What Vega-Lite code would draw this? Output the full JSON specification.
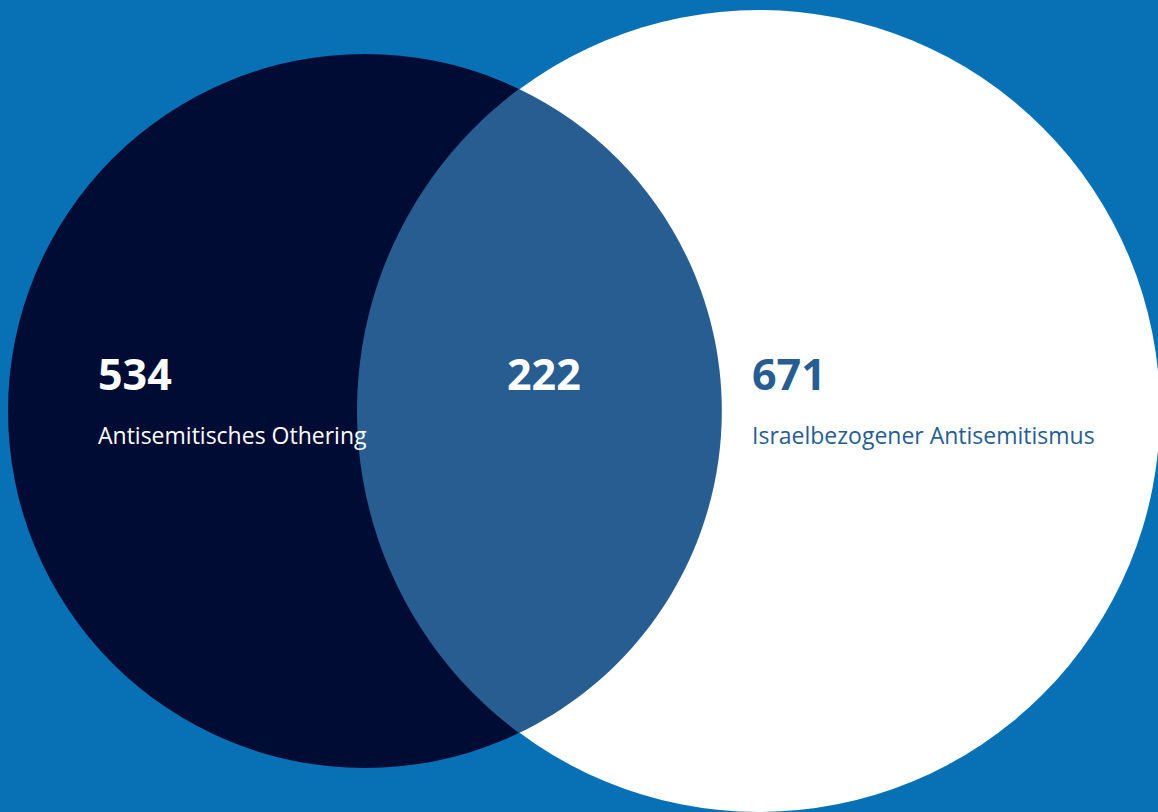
{
  "$schema": "https://vega.github.io/schema/vega-lite/v6.json",
  "width": 1158,
  "height": 812,
  "padding": 0,
  "autosize": {"type": "none"},
  "background": "#0870b5",
  "config": {"view": {"stroke": null}},
  "datasets": {
    "regions": [
      {"region": "Antisemitisches Othering", "kind": "set", "count": 534, "cx": 365, "cy": 411, "lx": 98},
      {"region": "Israelbezogener Antisemitismus", "kind": "set", "count": 671, "cx": 759, "cy": 411, "lx": 752},
      {"region": "Überschneidung", "kind": "overlap", "count": 222, "cx": 759, "cy": 411, "lx": 507}
    ]
  },
  "data": {"name": "regions"},
  "encoding": {
    "y": {"field": "cy", "type": "quantitative", "scale": {"domain": [0, 812], "reverse": true, "nice": false, "zero": false}, "axis": null}
  },
  "layer": [
    {
      "transform": [{"filter": "datum.region === 'Antisemitisches Othering'"}],
      "mark": {"type": "point", "shape": "circle", "filled": true, "opacity": 1, "strokeWidth": 0, "color": "#000c33", "size": 509796},
      "encoding": {
        "x": {"field": "cx", "type": "quantitative", "scale": {"domain": [0, 1158], "nice": false, "zero": false}, "axis": null}
      }
    },
    {
      "transform": [{"filter": "datum.region === 'Israelbezogener Antisemitismus'"}],
      "mark": {"type": "point", "shape": "circle", "filled": true, "opacity": 1, "strokeWidth": 0, "color": "#ffffff", "size": 643204},
      "encoding": {
        "x": {"field": "cx", "type": "quantitative", "axis": null}
      }
    },
    {
      "transform": [{"filter": "datum.kind === 'overlap'"}],
      "mark": {"type": "point", "shape": "M -0.5985 -0.803 A 1 1 0 0 0 -0.5985 0.803 A 0.8903 0.8903 0 0 0 -0.5985 -0.803 Z", "filled": true, "opacity": 1, "strokeWidth": 0, "color": "#275d91", "size": 643204},
      "encoding": {
        "x": {"field": "cx", "type": "quantitative", "axis": null}
      }
    },
    {
      "mark": {"type": "text", "font": "Open Sans", "fontWeight": "bold", "fontSize": 43, "align": "left", "baseline": "alphabetic", "dy": -21},
      "encoding": {
        "x": {"field": "lx", "type": "quantitative", "axis": null},
        "text": {"field": "count", "type": "quantitative"},
        "color": {"condition": {"test": "datum.region === 'Israelbezogener Antisemitismus'", "value": "#275d91"}, "value": "#ffffff"}
      }
    },
    {
      "transform": [{"filter": "datum.kind === 'set'"}],
      "mark": {"type": "text", "font": "Open Sans", "fontSize": 23, "align": "left", "baseline": "alphabetic", "dy": 33},
      "encoding": {
        "x": {"field": "lx", "type": "quantitative", "axis": null},
        "text": {"field": "region", "type": "nominal"},
        "color": {"condition": {"test": "datum.region === 'Israelbezogener Antisemitismus'", "value": "#275d91"}, "value": "#ffffff"}
      }
    }
  ]
}
